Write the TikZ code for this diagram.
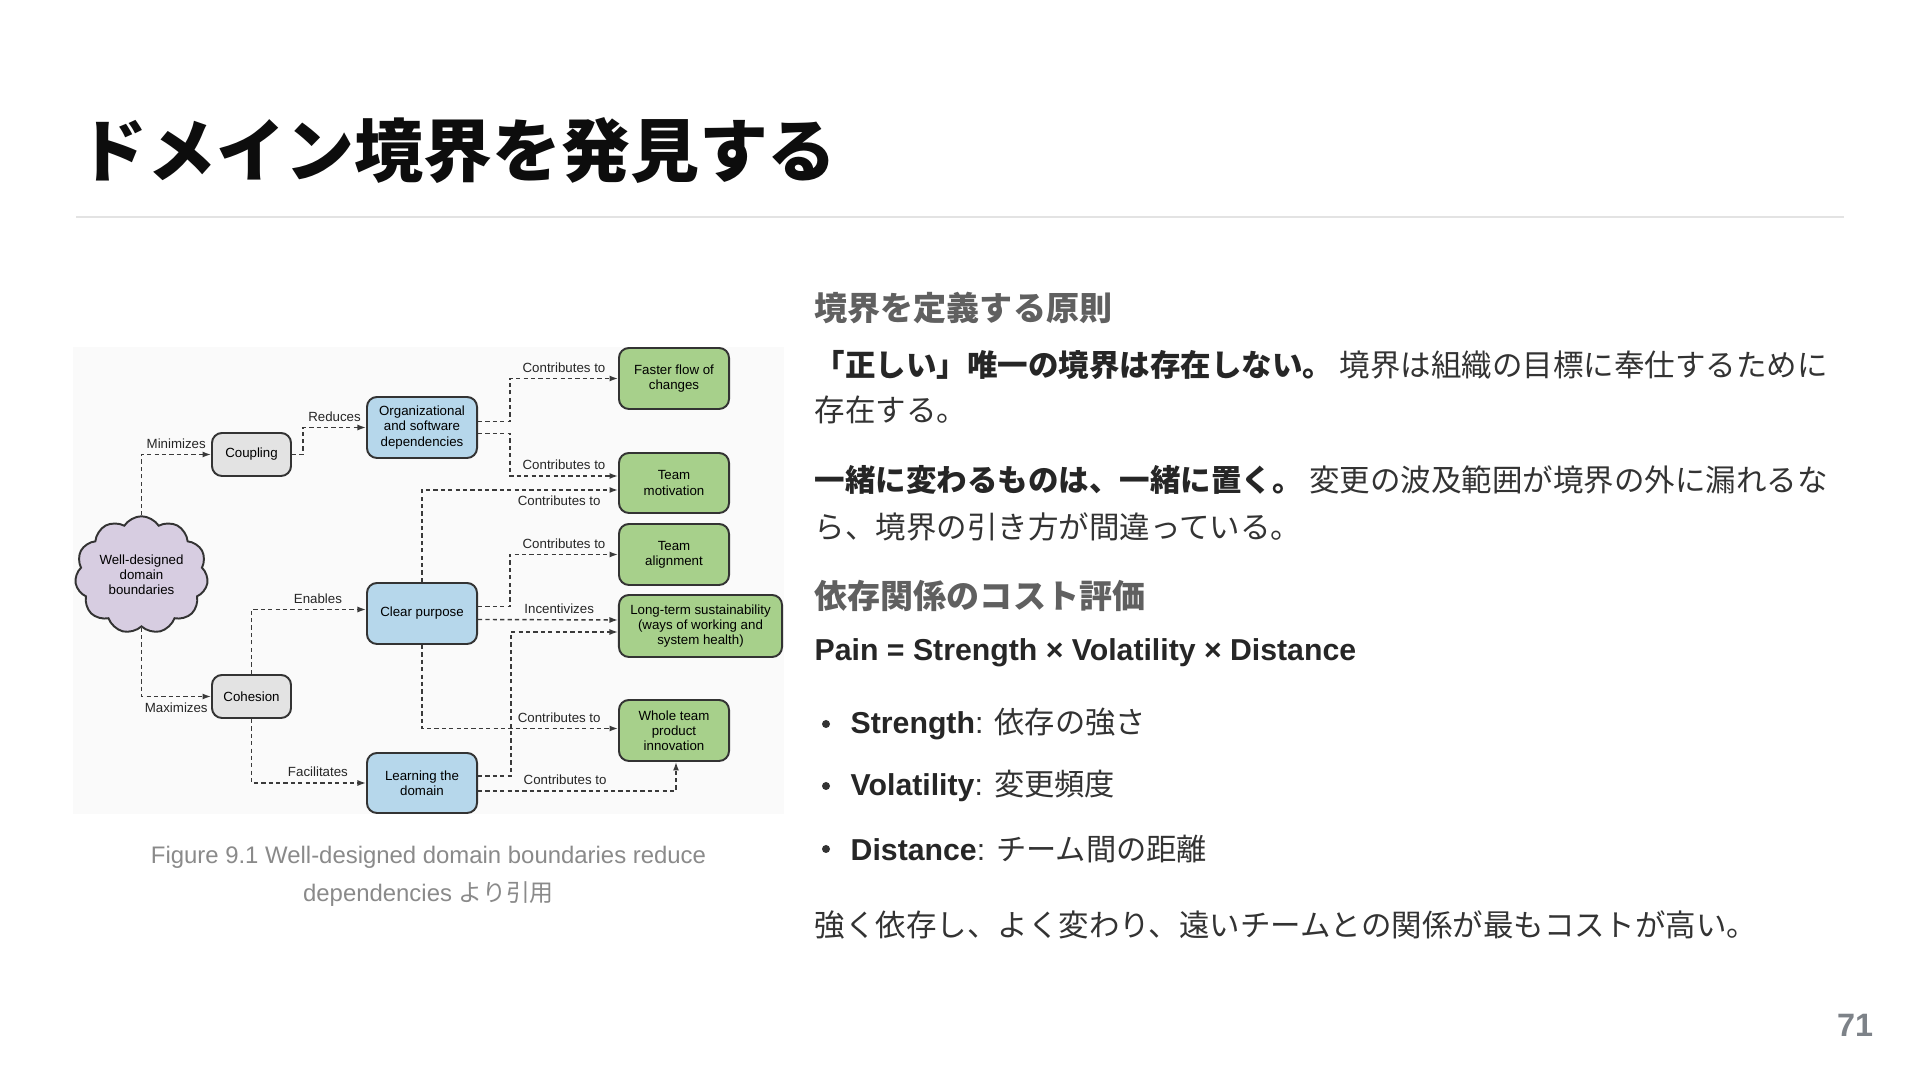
\documentclass[tikz,border=0pt]{standalone}
\usepackage{fontspec}
\setmainfont{Liberation Sans}
\newfontfamily\jp{Noto Sans CJK JP}
\usepackage{xcolor}
\usetikzlibrary{positioning,arrows.meta,calc,shapes.symbols}
\definecolor{bodytext}{HTML}{333333}
\definecolor{headgray}{HTML}{606060}
\definecolor{capgray}{HTML}{8A8A8A}
\definecolor{pagegray}{HTML}{7D8288}
\definecolor{rulegray}{HTML}{E3E3E3}
\definecolor{figbg}{HTML}{FAFAFA}
\definecolor{boxgray}{HTML}{E3E3E3}
\definecolor{boxblue}{HTML}{B6D7EB}
\definecolor{boxgreen}{HTML}{A7D08B}
\definecolor{cloudlilac}{HTML}{D7CDE1}
\definecolor{linegray}{HTML}{3A3A3A}

\begin{document}
\begin{tikzpicture}[x=0.01cm,y=-0.01cm,
    box/.style={draw=black!80,line width=0.55pt,rounded corners=0.1cm,align=center,inner sep=0pt,font=\fontsize{3.78}{4.3}\selectfont},
    graybox/.style={box,fill=boxgray,minimum width=0.79cm,minimum height=0.43cm},
    bluebox/.style={box,fill=boxblue,minimum width=1.1cm,minimum height=0.61cm},
    greenbox/.style={box,fill=boxgreen,minimum width=1.1cm,minimum height=0.61cm},
    flow/.style={draw=linegray,line width=0.4pt,dash pattern=on 1.2pt off 0.9pt,-{Latex[length=0.85mm,width=0.6mm]}},
    lbl/.style={font=\fontsize{3.78}{4.3}\selectfont,text=black!85,inner sep=1.6pt},
    body/.style={anchor=west,inner sep=0pt,text=bodytext,font=\jp\fontsize{8.67}{10}\selectfont},
    head/.style={anchor=west,inner sep=0pt,text=headgray,font=\jp\bfseries\fontsize{9.4}{11}\selectfont}]
    % page, 1 unit = 1 px of the slide
    \useasboundingbox (0,0) rectangle (1920,1080);
    \fill[white] (0,0) rectangle (1920,1080);

    % title
    \node[anchor=west,inner sep=0pt,text=black!95,font=\jp\bfseries\fontsize{19.6}{23}\selectfont] (title) at (78,151) {ドメイン境界を発見する};
    \draw[rulegray,line width=0.6pt] (76,217) -- (1844,217);

    % figure
    \fill[figbg] (73,347) rectangle (784,814);
    \node[cloud,cloud puffs=11,cloud puff arc=115,aspect=1.15,draw=black!80,line width=0.55pt,fill=cloudlilac,
          minimum width=1.33cm,minimum height=1.16cm,inner sep=0pt,align=center,font=\fontsize{3.78}{4.3}\selectfont]
          (cloud) at (141.5,575) {Well-designed\\domain\\boundaries};
    \node[graybox] (coupling) at (251.5,454.5) {Coupling};
    \node[graybox] (cohesion) at (251.5,696.5) {Cohesion};
    \node[bluebox] (org) at (422,427.5) {Organizational\\and software\\dependencies};
    \node[bluebox] (clear) at (422,613.5) {Clear purpose};
    \node[bluebox,minimum height=0.6cm] (learning) at (422,783) {Learning the\\domain};
    \node[greenbox] (faster) at (674,378.5) {Faster flow of\\changes};
    \node[greenbox,minimum height=0.6cm] (motivation) at (674,483) {Team\\motivation};
    \node[greenbox] (alignment) at (674,554.5) {Team\\alignment};
    \node[greenbox,minimum width=1.63cm,minimum height=0.62cm] (longterm) at (700.5,626) {Long-term sustainability\\(ways of working and\\system health)};
    \node[greenbox] (whole) at (674,730.5) {Whole team\\product\\innovation};

    % connectors (y grows downwards)
    \draw[flow] (cloud.north) |- node[lbl,pos=0.75,above]{Minimizes} (coupling.west);
    \draw[flow] (cloud.south) |- node[lbl,pos=0.75,below]{Maximizes} (cohesion.west);
    \draw[flow] (coupling.east) -- ++(11,0) |- node[lbl,pos=0.75,above]{Reduces} (org.west);
    \draw[flow] (cohesion.north) |- node[lbl,pos=0.79,above]{Enables} ($(clear.west)+(0,-4)$);
    \draw[flow] (cohesion.south) |- node[lbl,pos=0.79,above]{Facilitates} (learning.west);
    \draw[flow] ($(org.east)+(0,-6)$) -- ++(32,0) |- node[lbl,pos=0.75,above]{Contributes to} (faster.west);
    \draw[flow] ($(org.east)+(0,6)$) -- ++(32,0) |- node[lbl,pos=0.75,above]{Contributes to} ($(motivation.west)+(0,-7)$);
    \draw[flow] (clear.north) |- node[lbl,pos=0.85,below]{Contributes to} ($(motivation.west)+(0,7)$);
    \draw[flow] ($(clear.east)+(0,-7)$) -- ++(32,0) |- node[lbl,pos=0.75,above]{Contributes to} (alignment.west);
    \draw[flow] ($(clear.east)+(0,6)$) -- node[lbl,pos=0.58,above]{Incentivizes} ($(longterm.west)+(0,-6)$);
    \draw[flow] (clear.south) |- node[lbl,pos=0.85,above]{Contributes to} ($(whole.west)+(0,-2)$);
    \draw[flow] ($(learning.east)+(0,-7)$) -- ++(33,0) |- ($(longterm.west)+(0,6)$);
    \draw[flow] ($(learning.east)+(0,8)$) -| node[lbl,pos=0.22,above]{Contributes to} ($(whole.south)+(2,0)$);

    % caption
    \node[inner sep=0pt,text=capgray,font=\fontsize{6.8}{8}\selectfont] (cap1) at (428.5,857) {Figure 9.1 Well-designed domain boundaries reduce};
    \node[inner sep=0pt,text=capgray,font=\fontsize{6.8}{8}\selectfont] (cap2) at (428.5,894) {dependencies {\jp より引用}};

    % right column
    \node[head] (head1) at (814,308) {境界を定義する原則};
    \node[body] (para1a) at (814,365) {{\bfseries\color{black!85}「正しい」唯一の境界は存在しない。} 境界は組織の目標に奉仕するために};
    \node[body] (para1b) at (814,410) {存在する。};
    \node[body] (para2a) at (814,480) {{\bfseries\color{black!85}一緒に変わるものは、一緒に置く。} 変更の波及範囲が境界の外に漏れるな};
    \node[body] (para2b) at (814,527) {ら、境界の引き方が間違っている。};
    \node[head] (head2) at (814,596) {依存関係のコスト評価};
    \node[anchor=west,inner sep=0pt,text=black!85,font=\bfseries\fontsize{8.6}{10}\selectfont] (pain) at (814,653) {Pain = Strength × Volatility × Distance};
    \foreach \y/\term/\desc [count=\i] in {724/Strength/依存の強さ, 786/Volatility/変更頻度, 849/Distance/チーム間の距離} {
      \node[circle,fill=bodytext,inner sep=0pt,minimum size=0.08cm] (dot\i) at (826,\y) {};
      \node[anchor=west,inner sep=0pt,text=bodytext,font=\fontsize{8.6}{10}\selectfont] (item\i) at (850,\y) {{\bfseries\color{black!85}\term}: {\jp\desc}};
    }
    \node[body] (summary) at (814,925) {強く依存し、よく変わり、遠いチームとの関係が最もコストが高い。};

    % page number
    \node[text=pagegray,inner sep=0pt,font=\bfseries\fontsize{9.2}{11}\selectfont] (pagenum) at (1855,1025) {71};
\end{tikzpicture}
\end{document}
